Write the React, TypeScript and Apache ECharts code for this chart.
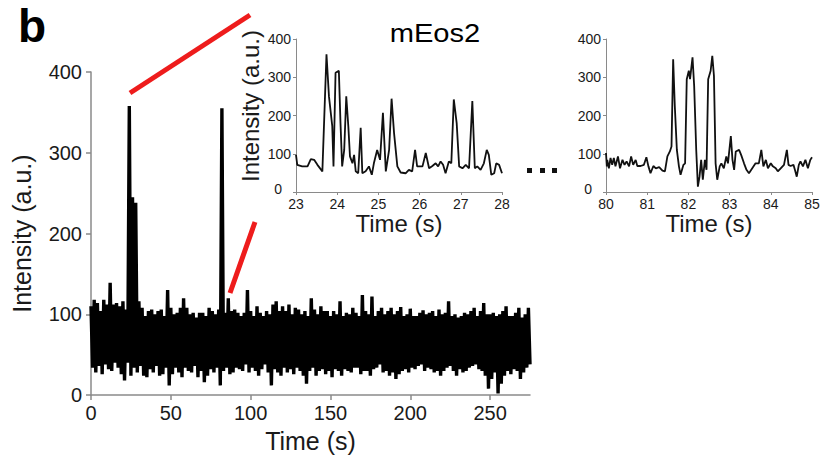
import React, { useEffect, useRef } from "react";
import * as echarts from "echarts";

// Main trace: upper / lower envelope of the intensity band, one pair per 2 s bin
const mainUpper = [
  110, 118, 114, 104, 118, 112, 139, 112, 114, 110, 116, 106, 358, 245, 238, 116, 108, 98, 104, 106,
  100, 104, 106, 98, 130, 108, 100, 102, 108, 120, 108, 100, 102, 96, 102, 102, 98, 108, 104, 100,
  106, 355, 102, 120, 104, 106, 102, 98, 102, 130, 104, 98, 110, 102, 98, 104, 100, 112, 116, 104,
  110, 104, 112, 100, 108, 106, 100, 104, 98, 120, 106, 100, 110, 104, 104, 98, 104, 100, 116, 98,
  102, 100, 108, 102, 98, 124, 104, 100, 122, 98, 104, 108, 100, 104, 108, 100, 104, 109, 98, 100,
  107, 98, 98, 102, 105, 100, 102, 104, 98, 106, 100, 102, 116, 98, 100, 96, 98, 102, 100, 104,
  108, 98, 104, 114, 100, 100, 102, 98, 100, 104, 110, 98, 98, 102, 108, 96, 100, 108,
];
const mainLower = [
  34, 28, 36, 26, 38, 32, 30, 40, 34, 26, 18, 40, 24, 34, 28, 36, 24, 22, 32, 28,
  36, 24, 26, 34, 12, 26, 34, 28, 22, 34, 30, 28, 36, 22, 30, 16, 24, 32, 28, 34,
  12, 30, 34, 26, 28, 34, 32, 30, 38, 28, 34, 30, 24, 32, 38, 28, 12, 32, 28, 24,
  34, 28, 32, 26, 34, 30, 24, 14, 30, 34, 24, 30, 32, 26, 30, 22, 32, 30, 24, 32,
  30, 28, 34, 34, 26, 30, 30, 24, 32, 34, 38, 28, 30, 24, 28, 20, 26, 30, 32, 28,
  34, 32, 36, 38, 30, 34, 32, 28, 30, 24, 30, 34, 36, 30, 24, 32, 28, 30, 34, 36,
  38, 32, 30, 24, 8, 20, 28, 2, 14, 24, 30, 26, 32, 30, 20, 28, 34, 38,
];
const binWidth = 2;

// Inset 1: 23–28 s
const inset1Time = [
  23.0, 23.03, 23.15, 23.28, 23.36, 23.44, 23.52, 23.64, 23.74, 23.8, 23.88, 23.91, 23.96, 24.04, 24.08,
  24.12, 24.17, 24.22, 24.27, 24.31, 24.37, 24.41, 24.45, 24.51, 24.57, 24.61, 24.69, 24.77, 24.84, 24.89,
  24.97, 25.04, 25.11, 25.18, 25.26, 25.32, 25.38, 25.46, 25.54, 25.66, 25.74, 25.82, 25.89, 25.94, 26.07,
  26.15, 26.23, 26.31, 26.39, 26.45, 26.51, 26.57, 26.63, 26.71, 26.77, 26.83, 26.9, 26.96, 27.04, 27.12,
  27.2, 27.28, 27.34, 27.4, 27.48, 27.56, 27.63, 27.68, 27.74, 27.81, 27.86, 27.93, 28.0,
];
const inset1Value = [
  97, 71, 67, 67, 86, 84, 71, 54, 360, 250, 172, 67, 312, 317, 180,
  67, 110, 250, 172, 93, 75, 97, 54, 49, 168, 49, 54, 67, 45, 75,
  110, 84, 207, 54, 110, 244, 154, 67, 51, 49, 58, 54, 110, 67, 67,
  102, 62, 68, 75, 67, 80, 71, 49, 80, 75, 242, 180, 67, 62, 71,
  62, 238, 62, 67, 58, 75, 110, 97, 45, 49, 75, 71, 49,
];

// Inset 2: 80–85 s
const inset2Time = [
  80.0, 80.02, 80.03, 80.07, 80.11, 80.15, 80.19, 80.23, 80.29, 80.34, 80.4, 80.45, 80.5, 80.56, 80.61,
  80.66, 80.72, 80.76, 80.84, 80.92, 80.98, 81.03, 81.08, 81.15, 81.21, 81.29, 81.37, 81.43, 81.49, 81.55,
  81.59, 81.63, 81.67, 81.72, 81.77, 81.81, 81.88, 81.92, 81.96, 82.01, 82.04, 82.1, 82.14, 82.19, 82.23,
  82.27, 82.31, 82.35, 82.4, 82.44, 82.48, 82.54, 82.58, 82.62, 82.66, 82.7, 82.76, 82.8, 82.86, 82.92,
  82.96, 83.03, 83.07, 83.11, 83.15, 83.23, 83.28, 83.35, 83.41, 83.47, 83.55, 83.63, 83.71, 83.77, 83.82,
  83.88, 83.93, 84.0, 84.05, 84.12, 84.17, 84.24, 84.32, 84.39, 84.43, 84.48, 84.55, 84.59, 84.63, 84.68,
  84.72, 84.78, 84.84, 84.9, 84.96, 85.0,
];
const inset2Value = [
  102, 67, 84, 62, 89, 71, 89, 67, 93, 62, 84, 71, 80, 67, 93,
  71, 84, 68, 68, 71, 91, 67, 49, 68, 62, 65, 56, 54, 93, 106,
  119, 347, 225, 110, 67, 45, 71, 75, 295, 317, 295, 352, 277, 110, 14,
  40, 84, 32, 84, 58, 295, 317, 356, 304, 75, 32, 67, 75, 62, 93,
  75, 146, 84, 58, 106, 110, 97, 75, 58, 49, 62, 75, 75, 110, 67,
  84, 62, 75, 67, 62, 54, 62, 71, 110, 71, 68, 71, 56, 40, 71,
  80, 67, 84, 62, 84, 91,
];

const mainXTicks = [0, 50, 100, 150, 200, 250];
const yTicks = [0, 100, 200, 300, 400];

const FONT = '"Liberation Sans", Arial, sans-serif';
const AXIS_GRAY = "#8a8a8a";
const TEXT = "#1a1a1a";

export default function App() {
  const ref = useRef<HTMLDivElement>(null);
  useEffect(() => {
    if (!ref.current) return;
    const chart = echarts.init(ref.current, undefined, { renderer: "svg" });

    const mainData: number[][] = [];
    mainUpper.forEach((u, i) => {
      mainData.push([i * binWidth, u]);
      mainData.push([i * binWidth + binWidth / 2, mainLower[i]]);
    });
    const inset1Data = inset1Time.map((t, i) => [t, inset1Value[i]]);
    const inset2Data = inset2Time.map((t, i) => [t, inset2Value[i]]);

    const insetX = (gridIndex: number, min: number, max: number) => ({
      gridIndex,
      type: "value",
      min,
      max,
      interval: 1,
      name: "Time (s)",
      nameLocation: "middle",
      nameGap: 15,
      nameTextStyle: { fontFamily: FONT, fontSize: 24, color: TEXT },
      axisLine: { show: true, onZero: false, lineStyle: { color: AXIS_GRAY, width: 1 } },
      axisTick: { show: true, length: 3, lineStyle: { color: AXIS_GRAY } },
      axisLabel: { fontFamily: FONT, fontSize: 14, color: TEXT, margin: 5 },
      splitLine: { show: false },
    });
    const insetY = (gridIndex: number) => ({
      gridIndex,
      type: "value",
      min: 0,
      max: 400,
      interval: 100,
      axisLine: { show: true, onZero: false, lineStyle: { color: AXIS_GRAY, width: 1 } },
      axisTick: { show: true, length: 3, lineStyle: { color: AXIS_GRAY } },
      axisLabel: {
        fontFamily: FONT,
        fontSize: 14,
        color: TEXT,
        margin: 5,
        formatter: (v: number) => (v === 0 ? "{z|0}" : String(v)),
        rich: { z: { fontFamily: FONT, fontSize: 14, color: TEXT, padding: [0, 9, 6, 0] } },
      },
      splitLine: { show: false },
    });

    chart.setOption({
      animation: false,
      backgroundColor: "#ffffff",
      grid: [
        { left: 91, top: 72, width: 439, height: 326 },
        { left: 296, top: 39, width: 206, height: 153 },
        { left: 606, top: 39, width: 206, height: 153 },
      ],
      xAxis: [
        {
          gridIndex: 0,
          type: "value",
          min: 0,
          max: 275,
          interval: 50,
          name: "Time (s)",
          nameLocation: "middle",
          nameGap: 29,
          nameTextStyle: { fontFamily: FONT, fontSize: 25, color: TEXT },
          axisLine: { show: true, onZero: false, lineStyle: { color: AXIS_GRAY, width: 1.5 } },
          axisTick: { show: true, length: 5, customValues: mainXTicks, lineStyle: { color: AXIS_GRAY, width: 1.5 } },
          axisLabel: { fontFamily: FONT, fontSize: 20, color: TEXT, margin: 8, customValues: mainXTicks },
          splitLine: { show: false },
        },
        insetX(1, 23, 28),
        insetX(2, 80, 85),
      ],
      yAxis: [
        {
          gridIndex: 0,
          type: "value",
          min: 0,
          max: 400,
          interval: 100,
          name: "Intensity (a.u.)",
          nameLocation: "middle",
          nameGap: 57,
          nameTextStyle: { fontFamily: FONT, fontSize: 25, color: TEXT },
          axisLine: { show: true, onZero: false, lineStyle: { color: AXIS_GRAY, width: 1.5 } },
          axisTick: { show: true, length: 5, customValues: yTicks, lineStyle: { color: AXIS_GRAY, width: 1.5 } },
          axisLabel: { fontFamily: FONT, fontSize: 20, color: TEXT, margin: 9, customValues: yTicks },
          splitLine: { show: false },
        },
        insetY(1),
        insetY(2),
      ],
      series: [
        {
          type: "line",
          xAxisIndex: 0,
          yAxisIndex: 0,
          data: mainData,
          showSymbol: false,
          symbol: "none",
          lineStyle: { color: "#000", width: 3.4, join: "miter" },
          z: 3,
        },
        {
          type: "line",
          xAxisIndex: 1,
          yAxisIndex: 1,
          data: inset1Data,
          showSymbol: false,
          symbol: "none",
          lineStyle: { color: "#111", width: 1.8 },
        },
        {
          type: "line",
          xAxisIndex: 2,
          yAxisIndex: 2,
          data: inset2Data,
          showSymbol: false,
          symbol: "none",
          lineStyle: { color: "#111", width: 1.8 },
        },
      ],
      graphic: [
        {
          type: "text",
          x: 18,
          y: 26,
          style: { text: "b", font: `bold 46px ${FONT}`, fill: "#000", align: "left", verticalAlign: "middle" },
        },
        {
          type: "text",
          x: 435,
          y: 33,
          scaleX: 1.12,
          style: { text: "mEos2", font: `26px ${FONT}`, fill: "#000", align: "center", verticalAlign: "middle" },
        },
        {
          type: "text",
          x: 250,
          y: 106,
          rotation: Math.PI / 2,
          style: { text: "Intensity (a.u.)", font: `24px ${FONT}`, fill: TEXT, align: "center", verticalAlign: "middle" },
        },
        {
          type: "line",
          shape: { x1: 130, y1: 93, x2: 250, y2: 15 },
          style: { stroke: "#ee1c1c", lineWidth: 5 },
          z: 10,
        },
        {
          type: "line",
          shape: { x1: 230, y1: 293, x2: 255, y2: 222 },
          style: { stroke: "#ee1c1c", lineWidth: 5 },
          z: 10,
        },
        { type: "rect", shape: { x: 527, y: 168, width: 5, height: 5 }, style: { fill: "#111" } },
        { type: "rect", shape: { x: 540, y: 168, width: 5, height: 5 }, style: { fill: "#111" } },
        { type: "rect", shape: { x: 552, y: 168, width: 5, height: 5 }, style: { fill: "#111" } },
      ],
    });
    return () => chart.dispose();
  }, []);
  return (
    <div
      ref={ref}
      style={{ position: "fixed", left: 0, top: 0, width: 823, height: 458, background: "#fff" }}
    />
  );
}
